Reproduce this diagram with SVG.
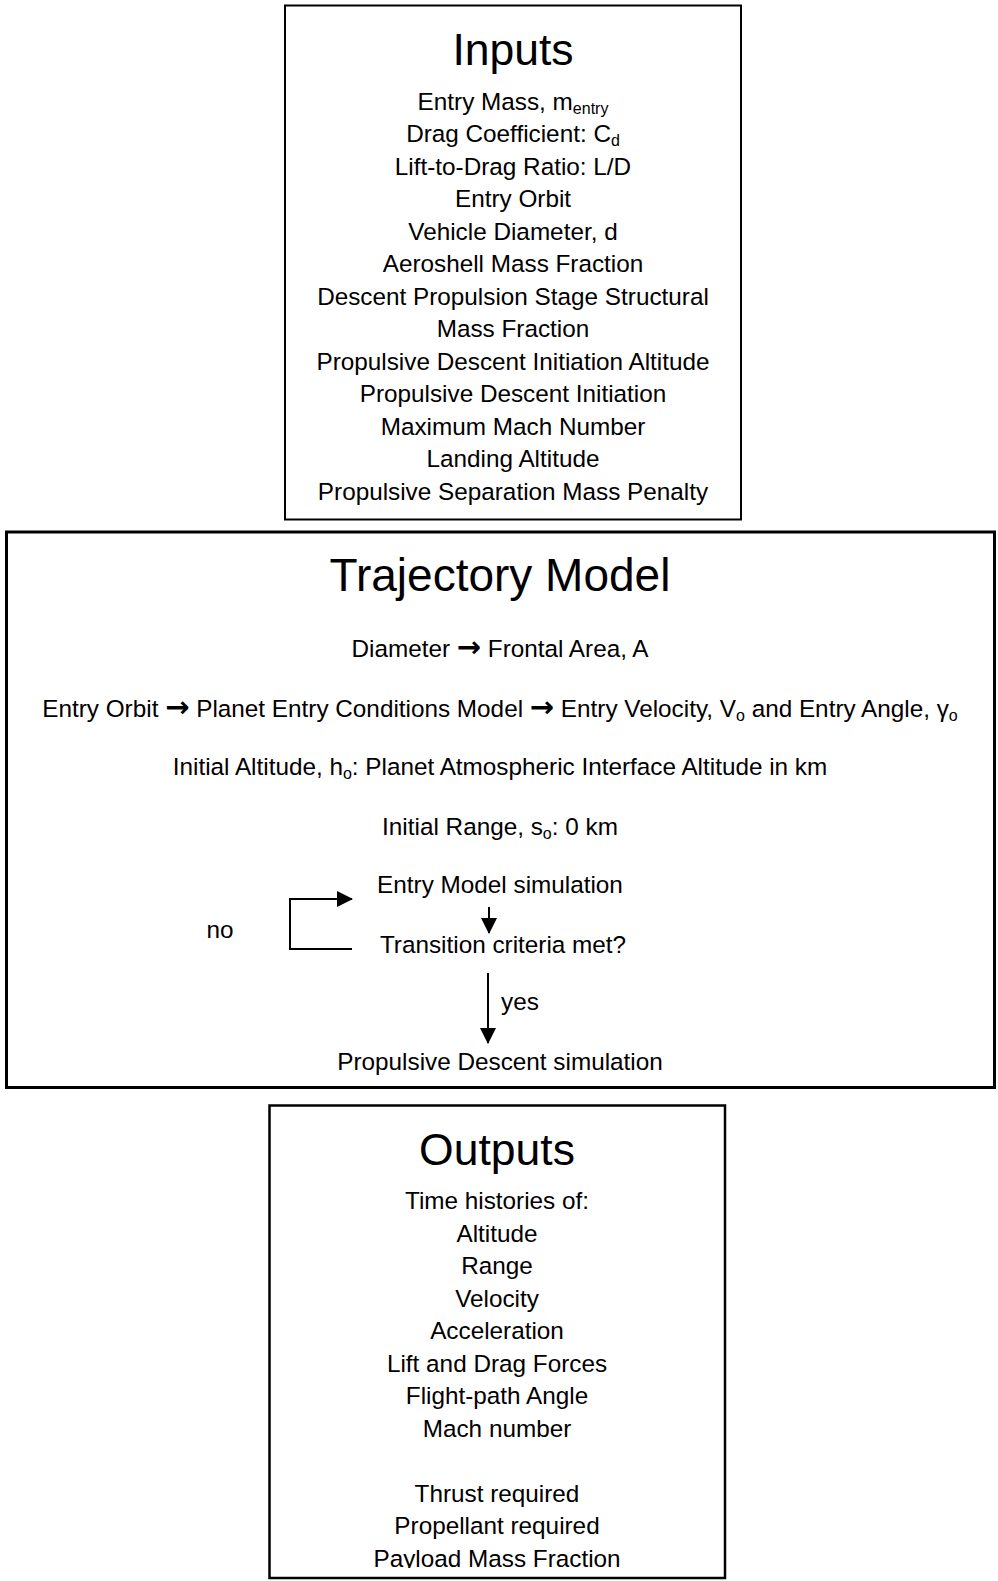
<svg xmlns="http://www.w3.org/2000/svg" width="998" height="1581" viewBox="0 0 998 1581">
<style>
text{font-family:"Liberation Sans",Arial,sans-serif;fill:#000;text-anchor:middle}
.title{font-size:44.5px}
.t2{font-size:46px}
.body{font-size:24.3px}
.sub{font-size:16px}
.arr{font-family:"DejaVu Sans",sans-serif;font-weight:bold;font-size:29px}
.box{fill:#fff;stroke:#000}
.conn{fill:none;stroke:#000;stroke-width:2}
</style>
<defs>
<marker id="ah" markerUnits="userSpaceOnUse" markerWidth="16" markerHeight="16" refX="15" refY="8" orient="auto">
<path d="M0,0 L16,8 L0,16 Z" fill="#000"/>
</marker>
<clipPath id="outclip"><rect x="269" y="1105" width="456" height="463"/></clipPath>
</defs>
<rect width="998" height="1581" fill="#fff"/>
<g id="inputs">
<rect class="box" x="285" y="5.5" width="456" height="514" stroke-width="2"/>
<text class="title" x="513" y="64.5">Inputs</text>
<text class="body" x="513" y="109.5">Entry Mass, m<tspan class="sub" dy="4">entry</tspan></text>
<text class="body" x="513" y="142">Drag Coefficient: C<tspan class="sub" dy="4">d</tspan></text>
<text class="body" x="513" y="174.5">Lift-to-Drag Ratio: L/D</text>
<text class="body" x="513" y="207">Entry Orbit</text>
<text class="body" x="513" y="239.5">Vehicle Diameter, d</text>
<text class="body" x="513" y="272">Aeroshell Mass Fraction</text>
<text class="body" x="513" y="304.5">Descent Propulsion Stage Structural</text>
<text class="body" x="513" y="337">Mass Fraction</text>
<text class="body" x="513" y="369.5">Propulsive Descent Initiation Altitude</text>
<text class="body" x="513" y="402">Propulsive Descent Initiation</text>
<text class="body" x="513" y="434.5">Maximum Mach Number</text>
<text class="body" x="513" y="467">Landing Altitude</text>
<text class="body" x="513" y="499.5">Propulsive Separation Mass Penalty</text>
</g>
<g id="trajectory">
<rect class="box" x="6.5" y="532" width="988" height="555.5" stroke-width="3"/>
<text class="t2" x="500" y="591">Trajectory Model</text>
<text class="body" x="500" y="657">Diameter <tspan class="arr">→</tspan> Frontal Area, A</text>
<text class="body" x="500" y="716.5">Entry Orbit <tspan class="arr">→</tspan> Planet Entry Conditions Model <tspan class="arr">→</tspan> Entry Velocity, V<tspan class="sub" dy="4">o</tspan><tspan dy="-4"> and Entry Angle, γ</tspan><tspan class="sub" dy="4">o</tspan></text>
<text class="body" x="500" y="775">Initial Altitude, h<tspan class="sub" dy="4">o</tspan><tspan dy="-4">: Planet Atmospheric Interface Altitude in km</tspan></text>
<text class="body" x="500" y="834.5">Initial Range, s<tspan class="sub" dy="4">o</tspan><tspan dy="-4">: 0 km</tspan></text>
<text class="body" x="500" y="893">Entry Model simulation</text>
<text class="body" x="503" y="952.5">Transition criteria met?</text>
<text class="body" x="220" y="938">no</text>
<text class="body" x="520" y="1010">yes</text>
<text class="body" x="500" y="1070">Propulsive Descent simulation</text>
</g>
<g id="outputs">
<rect class="box" x="269.5" y="1105.5" width="455.5" height="472.5" stroke-width="2.5"/>
<text class="title" x="497" y="1165">Outputs</text>
<text class="body" x="497" y="1209">Time histories of:</text>
<text class="body" x="497" y="1241.5">Altitude</text>
<text class="body" x="497" y="1274">Range</text>
<text class="body" x="497" y="1306.5">Velocity</text>
<text class="body" x="497" y="1339">Acceleration</text>
<text class="body" x="497" y="1371.5">Lift and Drag Forces</text>
<text class="body" x="497" y="1404">Flight-path Angle</text>
<text class="body" x="497" y="1436.5">Mach number</text>
<text class="body" x="497" y="1501.5">Thrust required</text>
<text class="body" x="497" y="1534">Propellant required</text>
<text class="body" x="497" y="1567" clip-path="url(#outclip)">Payload Mass Fraction</text>
</g>
<g id="connectors">
<path class="conn" d="M352,949 H290 V899 H352" marker-end="url(#ah)"/>
<path class="conn" d="M489,907 V933" marker-end="url(#ah)"/>
<path class="conn" d="M488,973 V1043" marker-end="url(#ah)"/>
</g>
</svg>
